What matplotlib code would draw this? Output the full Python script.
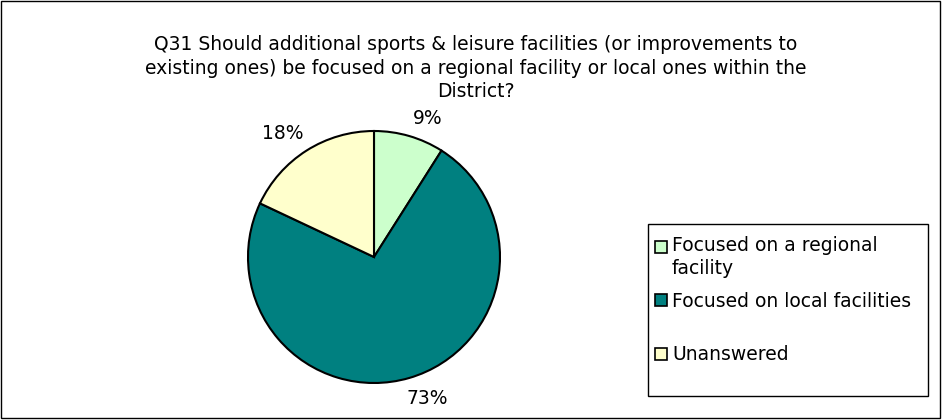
import numpy as np
import matplotlib.pyplot as plt
from matplotlib.patches import Rectangle
from matplotlib.legend_handler import HandlerPatch

plt.rcParams['font.family'] = ['DejaVu Sans']

title = ('Q31 Should additional sports & leisure facilities (or improvements to\n'
         'existing ones) be focused on a regional facility or local ones within the\n'
         'District?')
labels = ['Focused on a regional\nfacility', 'Focused on local facilities', 'Unanswered']
values = [9, 73, 18]
colors = ['#CCFFCC', '#008080', '#FFFFCC']

W, H = 942, 420
FS = 13.5
fig = plt.figure(figsize=(W / 100, H / 100), dpi=100)


def px_rect(x0, y0, x1, y1, lw=1):
    # rectangle given in pixel coords (top-left origin)
    return Rectangle((x0 / W, 1 - y1 / H), (x1 - x0) / W, (y1 - y0) / H,
                     transform=fig.transFigure, fill=False, edgecolor='black', linewidth=lw)


def raised_square(legend, orig_handle, xdescent, ydescent, width, height, fontsize):
    # marker next to the first line of a two-line label
    return Rectangle((-xdescent, -ydescent + 0.6 * fontsize), width, height)


# outer chart border
fig.patches.append(px_rect(1, 1, 940, 418))

fig.text(476 / W, 1 - 68 / H, title, ha='center', va='center', fontsize=FS,
         linespacing=1.28)

# pie centre (374, 257) px, radius 126 px
cx, cy, r = 374, 257, 126
ax = fig.add_axes([(cx - r) / W, (H - cy - r) / H, 2 * r / W, 2 * r / H])
wedges, texts = ax.pie(values, colors=colors, startangle=90, counterclock=False,
                       wedgeprops=dict(edgecolor='black', linewidth=1.5))
ax.set_xlim(-1, 1)
ax.set_ylim(-1, 1)
ax.set_aspect('equal')
ax.axis('off')

# percentage labels round the outside (clockwise shift in degrees, radial distance)
label_shift = [5, -4.3, -4]
label_dist = [1.18, 1.2, 1.22]
total = sum(values)
start = 90.0
for v, shift, dist in zip(values, label_shift, label_dist):
    mid = start - v / total * 360 / 2
    ang = np.deg2rad(mid - shift)
    ax.text(dist * np.cos(ang), dist * np.sin(ang), '%d%%' % round(v / total * 100),
            ha='center', va='center', fontsize=FS, clip_on=False)
    start -= v / total * 360

# legend frame drawn separately so the box matches the original size
fig.patches.append(px_rect(648, 224, 928, 396))
leg_kw = dict(fontsize=FS, frameon=False, handlelength=0.65, handleheight=0.65,
              handletextpad=0.25, borderpad=0, borderaxespad=0)
leg1 = fig.legend(wedges[:2], labels[:2], loc='upper left',
                  bbox_to_anchor=(655 / W, 1 - 236 / H), labelspacing=0.71,
                  handler_map={wedges[0]: HandlerPatch(patch_func=raised_square)}, **leg_kw)
leg2 = fig.legend(wedges[2:], labels[2:], loc='center left',
                  bbox_to_anchor=(655 / W, 1 - 355 / H), **leg_kw)
for leg in (leg1, leg2):
    for t in leg.get_texts():
        t.set_linespacing(1.3)
    for h in leg.legend_handles:
        h.set_linewidth(1.2)

fig.savefig('out.png', dpi=100)
